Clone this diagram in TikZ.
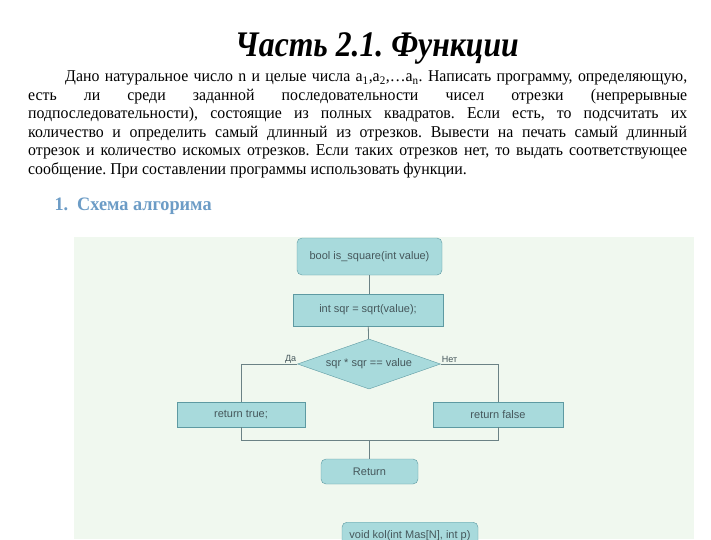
\documentclass[tikz,border=0pt]{standalone}
\usepackage{fontspec}
\setmainfont{Liberation Serif}[FakeStretch=0.96]
\newfontfamily\titlefont{Liberation Serif}[FakeStretch=0.88]
\newfontfamily\chartfont{Liberation Sans}
\usetikzlibrary{positioning}
\usetikzlibrary{calc}
\usetikzlibrary{shapes.geometric}

\definecolor{panelgreen}{HTML}{F0F8EF}
\definecolor{boxteal}{HTML}{A8DADC}
\definecolor{boxedge}{HTML}{5E9AA2}
\definecolor{boxtext}{HTML}{45575B}
\definecolor{linegray}{HTML}{6B8285}
\definecolor{headblue}{HTML}{6C9CC6}

\tikzset{
  chartbox/.style={draw=boxedge, fill=boxteal, text=boxtext, inner sep=0pt,
    font=\chartfont\fontsize{11}{13}\selectfont},
  termbox/.style={chartbox, rounded corners=5pt},
  flowline/.style={draw=linegray, line width=0.8pt},
  branchlabel/.style={text=boxtext, inner sep=1pt, font=\chartfont\fontsize{9}{10}\selectfont}
}

\begin{document}
\frenchspacing
\begin{tikzpicture}[x=1pt, y=-1pt]

\useasboundingbox[fill=white] (0,0) rectangle (711,539);

% heading and task
\node[font=\titlefont\fontsize{36}{40}\selectfont\bfseries\itshape] (title) at (377,48) {Часть 2.1. Функции};
\node[anchor=north west, text width=659pt, align=justify, inner sep=0pt,
  font=\fontsize{16.5}{18.5}\selectfont] (task) at (28,70.5)
  {\hyphenpenalty=10000 \tolerance=9999 \emergencystretch=3em
   \hspace*{37pt}Дано натуральное число n и целые числа a\textsubscript{1},a\textsubscript{2},\ldots a\textsubscript{n}. Написать программу, определяющую,\linebreak
   есть ли среди заданной последовательности чисел отрезки (непрерывные\linebreak
   подпоследовательности), состоящие из полных квадратов. Если есть, то подсчитать их\linebreak
   количество и определить самый длинный из отрезков. Вывести на печать самый длинный\linebreak
   отрезок и количество искомых отрезков. Если таких отрезков нет, то выдать соответствующее\linebreak
   сообщение. При составлении программы использовать функции.};
\node[anchor=west, text=headblue, font=\fontsize{19}{22}\selectfont\bfseries] (heading) at (51,206) {1.\hspace{9pt}Схема алгорима};

% panel
\fill[panelgreen] (74,237) rectangle (694,539);

%%% is_square
\node[termbox, minimum width=145pt, minimum height=37pt] (func) at (369.5,256.5) {bool is\_square(int value)};
\node[chartbox, minimum width=150pt, minimum height=32pt] (sqr) at (368,310) {int sqr = sqrt(value);};
\node[chartbox, diamond, aspect=2.86, minimum width=143pt, minimum height=50pt] (cond) at (369,364) {sqr * sqr == value};
\node[chartbox, minimum width=128pt, minimum height=25pt] (rtrue) at (241,414.5) {return true;};
\node[chartbox, minimum width=130pt, minimum height=25pt] (rfalse) at (498,414.5) {return false};
\node[termbox, minimum width=97pt, minimum height=25pt] (ret) at (369.5,471.5) {Return};
\coordinate (J) at (369.5,440);

\node[branchlabel, anchor=south east] (yes) at (cond.west) {Да};
\node[branchlabel, anchor=south west] (no) at (cond.east) {Нет};

\draw[flowline] (func.south) -- (func.south |- sqr.north);
\draw[flowline] (sqr) -- (cond);
\draw[flowline] (cond.west) -| (rtrue.north);
\draw[flowline] (cond.east) -| (rfalse.north);
\draw[flowline] (rtrue.south) |- (J) -| (rfalse.south);
\draw[flowline] (J) -- (ret);

%%% kol
\node[termbox, anchor=north, minimum width=136pt, minimum height=26pt] (kol) at (410,522) {void kol(int Mas[N], int p)};

\end{tikzpicture}
\end{document}
